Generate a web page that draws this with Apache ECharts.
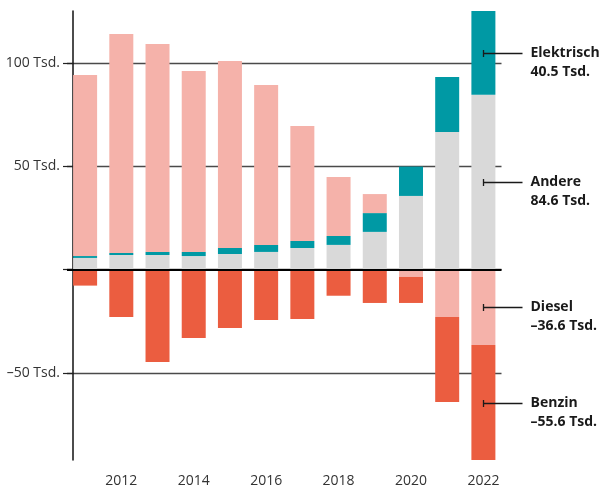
<!DOCTYPE html>
<html>
<head>
<meta charset="utf-8">
<script src="https://cdn.jsdelivr.net/npm/echarts@6/dist/echarts.min.js"></script>
<style>
  html, body { margin: 0; padding: 0; background: #fff; }
  #chart { width: 603px; height: 489px; }
</style>
</head>
<body>
<div id="chart"></div>
<script>
// ---- Data ----
const years = ['2011', '2012', '2013', '2014', '2015', '2016', '2017', '2018', '2019', '2020', '2021', '2022'];
const andere = [5.6, 7.0, 7.0, 6.5, 7.5, 8.5, 10.4, 11.9, 18.2, 35.6, 66.6, 84.6];
const elektrisch = [0.9, 1.0, 1.5, 2.0, 2.9, 3.4, 3.4, 4.3, 9.1, 14.2, 26.6, 40.5];
const diesel = [87.6, 106.0, 100.6, 87.6, 90.5, 77.4, 55.7, 28.6, 9.2, -3.6, -23.0, -36.6];
const benzin = [-7.8, -23.0, -44.8, -33.2, -28.3, -24.4, -24.0, -12.7, -16.2, -12.6, -41.1, -55.6];
const yTicks = [-50, 0, 50, 100];
const seriesNames = ['Andere', 'Elektrisch', 'Diesel', 'Benzin'];

const colors = {
  Andere: '#d9d9d9',
  Elektrisch: '#0099a4',
  Diesel: '#f5b2aa',
  Benzin: '#eb5d40'
};
const FONT = '"Open Sans", "Noto Sans", sans-serif';

const last = years.length - 1;
const yMax = andere[last] + elektrisch[last];
const yMin = diesel[last] + benzin[last];

const chart = echarts.init(document.getElementById('chart'), null, { renderer: 'canvas' });

function barSeries(name, arr, extra) {
  return Object.assign({
    name: name,
    type: 'bar',
    stack: 'total',
    barWidth: 24,
    data: arr,
    itemStyle: { color: colors[name] },
    emphasis: { disabled: true },
    silent: true,
    z: 3
  }, extra || {});
}

chart.setOption({
  animation: false,
  grid: { left: 67, right: 101.5, top: 11, bottom: 29, containLabel: false },
  xAxis: {
    type: 'category',
    data: years,
    boundaryGap: true,
    axisLine: { show: false },
    axisTick: { show: false },
    splitLine: { show: false },
    axisLabel: {
      interval: 0,
      margin: 14,
      color: '#333',
      fontFamily: FONT,
      fontSize: 14,
      formatter: (v, i) => (i % 2 === 1 ? v : '')
    }
  },
  yAxis: {
    type: 'value',
    min: yMin,
    max: yMax,
    offset: -6,
    axisLine: { show: true, onZero: false, lineStyle: { color: '#111', width: 1.5 } },
    axisTick: { show: true, inside: false, length: 10, customValues: yTicks, lineStyle: { color: '#222', width: 1.2 } },
    axisLabel: {
      customValues: yTicks,
      margin: 13,
      color: '#333',
      fontFamily: FONT,
      fontSize: 14,
      formatter: v => v === 0 ? '' : (v < 0 ? '\u2013' : '') + Math.abs(v) + ' Tsd.'
    },
    splitLine: { show: true, lineStyle: { color: '#4a4a4a', width: 1.3 } }
  },
  series: [
    barSeries('Andere', andere, {
      markLine: {
        silent: true,
        symbol: 'none',
        label: { show: false },
        lineStyle: { color: '#000', width: 2, type: 'solid' },
        z: 10,
        data: [{ yAxis: 0 }]
      }
    }),
    barSeries('Elektrisch', elektrisch),
    barSeries('Diesel', diesel),
    barSeries('Benzin', benzin)
  ]
});

// ---- annotations for the last bar ----
const mids = {
  Andere: andere[last] / 2,
  Elektrisch: andere[last] + elektrisch[last] / 2,
  Diesel: diesel[last] / 2,
  Benzin: diesel[last] + benzin[last] / 2
};
const vals = { Andere: andere[last], Elektrisch: elektrisch[last], Diesel: diesel[last], Benzin: benzin[last] };
function fmt(v) { return (v < 0 ? '\u2013' : '') + Math.abs(v).toFixed(1) + ' Tsd.'; }

const graphics = [];
seriesNames.forEach(name => {
  const p = chart.convertToPixel({ gridIndex: 0 }, [years[last], mids[name]]);
  const x = Math.round(p[0]) + 0.5, y = Math.round(p[1]) + 0.5;
  graphics.push({
    type: 'line', silent: true, z: 20,
    shape: { x1: x, y1: y, x2: x + 39, y2: y },
    style: { stroke: '#1a1a1a', lineWidth: 1.3 }
  });
  graphics.push({
    type: 'line', silent: true, z: 20,
    shape: { x1: x, y1: y - 3.5, x2: x, y2: y + 3.5 },
    style: { stroke: '#1a1a1a', lineWidth: 1.3 }
  });
  graphics.push({
    type: 'text', silent: true, z: 20,
    x: x + 47, y: y - 10,
    style: {
      text: name + '\n' + fmt(vals[name]),
      fill: '#1a1a1a',
      font: 'bold 14px ' + FONT,
      lineHeight: 19,
      align: 'left',
      verticalAlign: 'top'
    }
  });
});
chart.setOption({ graphic: graphics });
</script>
</body>
</html>
